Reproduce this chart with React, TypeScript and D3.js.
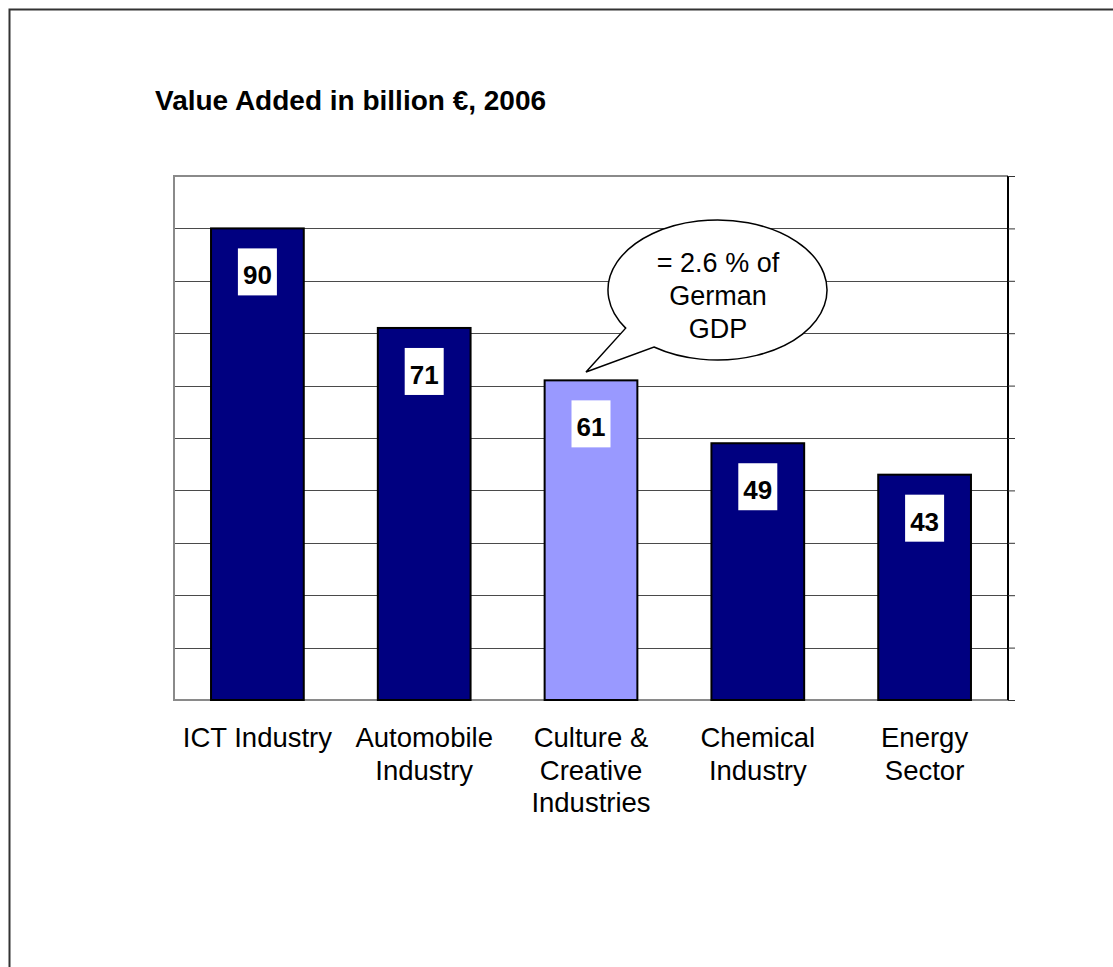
import React, { useEffect, useRef } from 'react';
import * as d3 from 'd3';

const categories = [
  ['ICT Industry'],
  ['Automobile', 'Industry'],
  ['Culture &', 'Creative', 'Industries'],
  ['Chemical', 'Industry'],
  ['Energy', 'Sector'],
];
const values = [90, 71, 61, 49, 43];
const highlighted = [false, false, true, false, false];
const yTicks = [0, 10, 20, 30, 40, 50, 60, 70, 80, 90, 100];
const calloutLines = ['= 2.6 % of', 'German', 'GDP'];

const App: React.FC = () => {
  const svgRef = useRef<SVGSVGElement>(null);

  useEffect(() => {
    if (!svgRef.current) return;
    const svg = d3.select(svgRef.current);
    svg.selectAll('*').remove();

    const font = "'Liberation Sans', Arial, sans-serif";
    const plot = { left: 174, right: 1008, top: 176, bottom: 700 };

    // outer frame
    svg.append('rect')
      .attr('x', 9.5).attr('y', 9.5)
      .attr('width', 1120).attr('height', 1000)
      .attr('fill', 'white')
      .attr('stroke', '#333').attr('stroke-width', 2);

    svg.append('text')
      .attr('x', 155).attr('y', 110)
      .attr('font-family', font).attr('font-size', 28).attr('font-weight', 'bold')
      .text('Value Added in billion €, 2006');

    const x = d3.scaleBand<number>()
      .domain(d3.range(values.length))
      .range([plot.left, plot.right])
      .paddingInner(0.444).paddingOuter(0.222);

    const y = d3.scaleLinear().domain([0, 100]).range([plot.bottom, plot.top]);

    // gridlines
    svg.append('g').selectAll('line')
      .data(yTicks.filter(t => t > 0 && t < 100))
      .join('line')
      .attr('x1', plot.left).attr('x2', plot.right)
      .attr('y1', d => Math.round(y(d)) + 0.5).attr('y2', d => Math.round(y(d)) + 0.5)
      .attr('stroke', '#4a4a4a').attr('stroke-width', 1);

    // plot frame (gray)
    svg.append('path')
      .attr('d', `M${plot.right},${plot.top}H${plot.left}V${plot.bottom}H${plot.right}`)
      .attr('fill', 'none').attr('stroke', '#8a8a8a').attr('stroke-width', 2);

    // right axis with ticks
    const axis = svg.append('g')
      .attr('transform', `translate(${plot.right},0)`)
      .call(d3.axisRight(y).tickValues(yTicks).tickSize(7).tickFormat(() => ''));
    axis.select('.domain').attr('stroke', '#000').attr('stroke-width', 2)
      .attr('d', `M0,${plot.top}V${plot.bottom}`);
    axis.selectAll('.tick line').attr('stroke', '#333');

    // bars
    svg.append('g').selectAll('rect')
      .data(values)
      .join('rect')
      .attr('x', (_, i) => x(i)!)
      .attr('y', d => y(d))
      .attr('width', x.bandwidth())
      .attr('height', d => y(0) - y(d))
      .attr('fill', (_, i) => (highlighted[i] ? '#9999FF' : '#000080'))
      .attr('stroke', '#000').attr('stroke-width', 2);

    // value labels
    const lbl = svg.append('g').selectAll('g')
      .data(values)
      .join('g')
      .attr('transform', (d, i) => `translate(${x(i)! + x.bandwidth() / 2},${y(d)})`);
    lbl.append('rect')
      .attr('x', -19.5).attr('y', 20).attr('width', 39).attr('height', 47)
      .attr('fill', 'white');
    lbl.append('text')
      .attr('text-anchor', 'middle').attr('y', 56)
      .attr('font-family', font).attr('font-size', 26).attr('font-weight', 'bold')
      .text(d => d);

    // category labels
    const cat = svg.append('g').selectAll('text')
      .data(categories)
      .join('text')
      .attr('x', (_, i) => x(i)! + x.bandwidth() / 2)
      .attr('y', 747)
      .attr('text-anchor', 'middle')
      .attr('font-family', font).attr('font-size', 27.5);
    cat.selectAll('tspan')
      .data(d => d)
      .join('tspan')
      .attr('x', function () { return (this.parentNode as SVGTextElement).getAttribute('x'); })
      .attr('dy', (_, j) => (j === 0 ? 0 : 32.5))
      .text(d => d);

    // callout bubble
    const cx = 717.5, cy = 290, rx = 109.5, ry = 70;
    const a1 = Math.atan2((328 - cy) / ry, (626 - cx) / rx);
    const a2 = Math.atan2((347 - cy) / ry, (654 - cx) / rx);
    const p1 = [cx + rx * Math.cos(a1), cy + ry * Math.sin(a1)];
    const p2 = [cx + rx * Math.cos(a2), cy + ry * Math.sin(a2)];
    const tip = [586, 372];
    svg.append('path')
      .attr('d', `M${p2[0]},${p2[1]}A${rx},${ry} 0 1 0 ${p1[0]},${p1[1]}L${tip[0]},${tip[1]}Z`)
      .attr('fill', 'white').attr('stroke', '#000').attr('stroke-width', 1.5);
    svg.append('text')
      .attr('text-anchor', 'middle')
      .attr('font-family', font).attr('font-size', 27)
      .selectAll('tspan')
      .data(calloutLines)
      .join('tspan')
      .attr('x', 718)
      .attr('y', (_, j) => 272 + j * 33)
      .text(d => d);
  }, []);

  return (
    <svg
      ref={svgRef}
      width={1113}
      height={967}
      style={{ position: 'absolute', left: 0, top: 0, background: 'white' }}
    />
  );
};

export default App;
